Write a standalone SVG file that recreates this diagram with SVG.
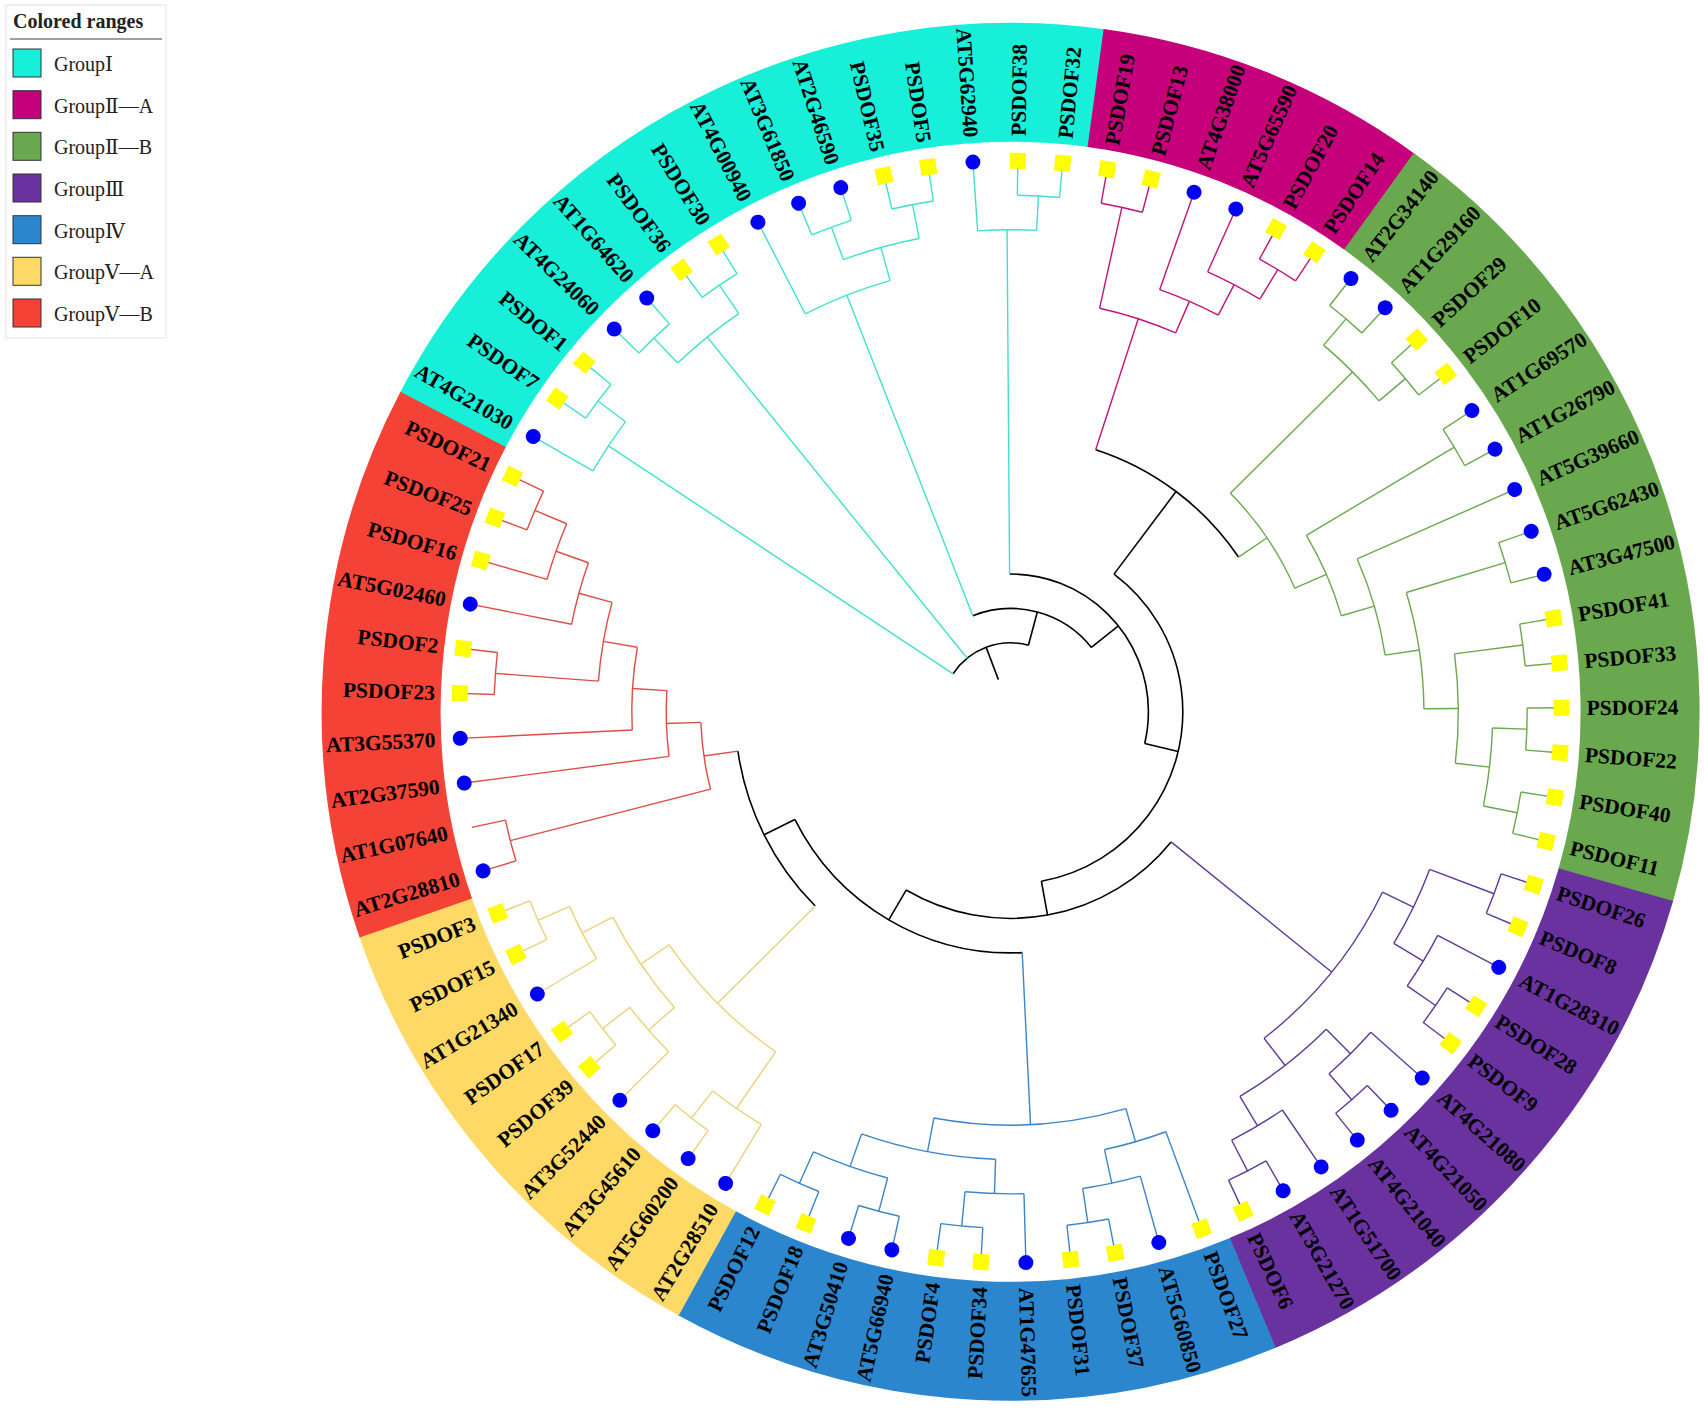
<svg xmlns="http://www.w3.org/2000/svg" xmlns:xlink="http://www.w3.org/1999/xlink" width="1704" height="1416" viewBox="0 0 1704 1416">
<style>
.br line,.br circle{fill:none;stroke-width:1.4}
.k{stroke:#000}.k line,.k circle{stroke-width:1.6}
.cy{stroke:#40E0D0}.mg{stroke:#C0147A}.gr{stroke:#6AA84F}.pu{stroke:#5E3A96}.bl{stroke:#3D85C6}.ye{stroke:#EBD27A}.rd{stroke:#DF4B45}
.band circle{fill:none;stroke-width:119}
.lf text{font-family:"Liberation Serif","Times New Roman",serif;font-weight:bold;font-size:21.5px;fill:#000}
.lf text.L{text-anchor:end}
.lg text{font-family:"Liberation Serif","DejaVu Serif",serif;font-size:20px;fill:#222}
.lg rect.sw{stroke:#333;stroke-width:1}
</style>
<defs>
<circle id="dot" cx="551" cy="0" r="7.5" fill="#0000F5"/>
<rect id="sq" x="543" y="-8" width="16" height="16" fill="#FFFF00"/>
</defs>
<rect width="1704" height="1416" fill="#fff"/>
<g transform="translate(1010.6 711.8)">
<g id="ranges" class="band">
<circle r="629.5" pathLength="360" stroke="#17EFD9" stroke-dasharray="70.18 720" transform="rotate(207.63)"/>
<circle r="629.5" pathLength="360" stroke="#C6007B" stroke-dasharray="28.1 720" transform="rotate(-82.24)"/>
<circle r="629.5" pathLength="360" stroke="#6AA84F" stroke-dasharray="70.18 720" transform="rotate(-54.19)"/>
<circle r="629.5" pathLength="360" stroke="#6A329F" stroke-dasharray="51.48 720" transform="rotate(15.94)"/>
<circle r="629.5" pathLength="360" stroke="#2B86CD" stroke-dasharray="51.48 720" transform="rotate(67.37)"/>
<circle r="629.5" pathLength="360" stroke="#FFD966" stroke-dasharray="42.13 720" transform="rotate(118.80)"/>
<circle r="629.5" pathLength="360" stroke="#F44336" stroke-dasharray="46.8 720" transform="rotate(160.88)"/>
</g>
<g id="connectors" class="br">
<g class="k">
<line x1="34.4" x2="68.9" transform="rotate(-110.77)"/>
<circle r="68.9" pathLength="360" stroke-dasharray="71.51 720" transform="rotate(-146.52)"/>
<line x1="68.9" x2="103.3" transform="rotate(-75.01)"/>
<circle r="103.3" pathLength="360" stroke-dasharray="72.90 720" transform="rotate(-111.46)"/>
<line x1="103.3" x2="137.8" transform="rotate(-38.56)"/>
<circle r="137.8" pathLength="360" stroke-dasharray="103.72 720" transform="rotate(-90.42)"/>
<line x1="137.8" x2="172.2" transform="rotate(13.30)"/>
<circle r="172.2" pathLength="360" stroke-dasharray="132.79 720" transform="rotate(-53.09)"/>
<line x1="172.2" x2="275.5" transform="rotate(-53.09)"/>
<circle r="275.5" pathLength="360" stroke-dasharray="37.84 720" transform="rotate(-72.01)"/>
<line x1="172.2" x2="206.6" transform="rotate(79.70)"/>
<circle r="206.6" pathLength="360" stroke-dasharray="81.33 720" transform="rotate(39.03)"/>
<line x1="206.6" x2="241.1" transform="rotate(120.36)"/>
<circle r="241.1" pathLength="360" stroke-dasharray="66.24 720" transform="rotate(87.24)"/>
<line x1="241.1" x2="275.5" transform="rotate(153.48)"/>
<circle r="275.5" pathLength="360" stroke-dasharray="36.63 720" transform="rotate(135.17)"/>
</g>
<g class="cy">
<line x1="68.9" x2="482.1" transform="rotate(213.48)"/>
<line x1="68.9" x2="482.1" transform="rotate(231.01)"/>
<line x1="103.3" x2="447.7" transform="rotate(248.54)"/>
<line x1="137.8" x2="482.1" transform="rotate(269.58)"/>
<circle r="482.1" pathLength="360" stroke-dasharray="7.01 720" transform="rotate(209.97)"/>
<line x1="482.1" x2="551" transform="rotate(209.97)"/>
<line x1="482.1" x2="516.6" transform="rotate(216.98)"/>
<circle r="516.6" pathLength="360" stroke-dasharray="4.675 720" transform="rotate(214.65)"/>
<line x1="516.6" x2="551" transform="rotate(214.65)"/>
<line x1="516.6" x2="551" transform="rotate(219.32)"/>
<circle r="482.1" pathLength="360" stroke-dasharray="9.35 720" transform="rotate(226.33)"/>
<line x1="482.1" x2="516.6" transform="rotate(226.33)"/>
<circle r="516.6" pathLength="360" stroke-dasharray="4.675 720" transform="rotate(224.00)"/>
<line x1="516.6" x2="551" transform="rotate(224.00)"/>
<line x1="516.6" x2="551" transform="rotate(228.67)"/>
<line x1="482.1" x2="516.6" transform="rotate(235.69)"/>
<circle r="516.6" pathLength="360" stroke-dasharray="4.675 720" transform="rotate(233.35)"/>
<line x1="516.6" x2="551" transform="rotate(233.35)"/>
<line x1="516.6" x2="551" transform="rotate(238.02)"/>
<circle r="447.7" pathLength="360" stroke-dasharray="11.69 720" transform="rotate(242.70)"/>
<line x1="447.7" x2="551" transform="rotate(242.70)"/>
<line x1="447.7" x2="482.1" transform="rotate(254.39)"/>
<circle r="482.1" pathLength="360" stroke-dasharray="9.35 720" transform="rotate(249.71)"/>
<line x1="482.1" x2="516.6" transform="rotate(249.71)"/>
<circle r="516.6" pathLength="360" stroke-dasharray="4.675 720" transform="rotate(247.37)"/>
<line x1="516.6" x2="551" transform="rotate(247.37)"/>
<line x1="516.6" x2="551" transform="rotate(252.05)"/>
<line x1="482.1" x2="516.6" transform="rotate(259.06)"/>
<circle r="516.6" pathLength="360" stroke-dasharray="4.675 720" transform="rotate(256.72)"/>
<line x1="516.6" x2="551" transform="rotate(256.72)"/>
<line x1="516.6" x2="551" transform="rotate(261.40)"/>
<circle r="482.1" pathLength="360" stroke-dasharray="7.01 720" transform="rotate(266.08)"/>
<line x1="482.1" x2="551" transform="rotate(266.08)"/>
<line x1="482.1" x2="516.6" transform="rotate(273.09)"/>
<circle r="516.6" pathLength="360" stroke-dasharray="4.675 720" transform="rotate(270.75)"/>
<line x1="516.6" x2="551" transform="rotate(270.75)"/>
<line x1="516.6" x2="551" transform="rotate(275.43)"/>
</g>
<g class="mg">
<line x1="275.5" x2="413.3" transform="rotate(-72.01)"/>
<circle r="413.3" pathLength="360" stroke-dasharray="11.10 720" transform="rotate(-77.56)"/>
<line x1="413.3" x2="516.6" transform="rotate(-77.56)"/>
<circle r="516.6" pathLength="360" stroke-dasharray="4.675 720" transform="rotate(-79.90)"/>
<line x1="516.6" x2="551" transform="rotate(-79.90)"/>
<line x1="516.6" x2="551" transform="rotate(-75.22)"/>
<line x1="413.3" x2="447.7" transform="rotate(-66.46)"/>
<circle r="447.7" pathLength="360" stroke-dasharray="8.18 720" transform="rotate(-70.55)"/>
<line x1="447.7" x2="551" transform="rotate(-70.55)"/>
<line x1="447.7" x2="482.1" transform="rotate(-62.37)"/>
<circle r="482.1" pathLength="360" stroke-dasharray="7.01 720" transform="rotate(-65.87)"/>
<line x1="482.1" x2="551" transform="rotate(-65.87)"/>
<line x1="482.1" x2="516.6" transform="rotate(-58.86)"/>
<circle r="516.6" pathLength="360" stroke-dasharray="4.675 720" transform="rotate(-61.20)"/>
<line x1="516.6" x2="551" transform="rotate(-61.20)"/>
<line x1="516.6" x2="551" transform="rotate(-56.52)"/>
</g>
<g class="gr">
<line x1="275.5" x2="309.9" transform="rotate(-34.17)"/>
<circle r="309.9" pathLength="360" stroke-dasharray="21.33 720" transform="rotate(-44.83)"/>
<line x1="309.9" x2="482.1" transform="rotate(-44.83)"/>
<circle r="482.1" pathLength="360" stroke-dasharray="9.35 720" transform="rotate(-49.51)"/>
<line x1="482.1" x2="516.6" transform="rotate(-49.51)"/>
<circle r="516.6" pathLength="360" stroke-dasharray="4.675 720" transform="rotate(-51.85)"/>
<line x1="516.6" x2="551" transform="rotate(-51.85)"/>
<line x1="516.6" x2="551" transform="rotate(-47.17)"/>
<line x1="482.1" x2="516.6" transform="rotate(-40.16)"/>
<circle r="516.6" pathLength="360" stroke-dasharray="4.675 720" transform="rotate(-42.50)"/>
<line x1="516.6" x2="551" transform="rotate(-42.50)"/>
<line x1="516.6" x2="551" transform="rotate(-37.82)"/>
<line x1="309.9" x2="344.4" transform="rotate(-23.50)"/>
<circle r="344.4" pathLength="360" stroke-dasharray="14.61 720" transform="rotate(-30.81)"/>
<line x1="344.4" x2="516.6" transform="rotate(-30.81)"/>
<circle r="516.6" pathLength="360" stroke-dasharray="4.675 720" transform="rotate(-33.15)"/>
<line x1="516.6" x2="551" transform="rotate(-33.15)"/>
<line x1="516.6" x2="551" transform="rotate(-28.47)"/>
<line x1="344.4" x2="378.8" transform="rotate(-16.20)"/>
<circle r="378.8" pathLength="360" stroke-dasharray="15.20 720" transform="rotate(-23.80)"/>
<line x1="378.8" x2="551" transform="rotate(-23.80)"/>
<line x1="378.8" x2="413.3" transform="rotate(-8.60)"/>
<circle r="413.3" pathLength="360" stroke-dasharray="16.36 720" transform="rotate(-16.78)"/>
<line x1="413.3" x2="516.6" transform="rotate(-16.78)"/>
<circle r="516.6" pathLength="360" stroke-dasharray="4.675 720" transform="rotate(-19.12)"/>
<line x1="516.6" x2="551" transform="rotate(-19.12)"/>
<line x1="516.6" x2="551" transform="rotate(-14.45)"/>
<line x1="413.3" x2="447.7" transform="rotate(-0.42)"/>
<circle r="447.7" pathLength="360" stroke-dasharray="14.02 720" transform="rotate(-7.43)"/>
<line x1="447.7" x2="516.6" transform="rotate(-7.43)"/>
<circle r="516.6" pathLength="360" stroke-dasharray="4.675 720" transform="rotate(-9.77)"/>
<line x1="516.6" x2="551" transform="rotate(-9.77)"/>
<line x1="516.6" x2="551" transform="rotate(-5.09)"/>
<line x1="447.7" x2="482.1" transform="rotate(6.59)"/>
<circle r="482.1" pathLength="360" stroke-dasharray="9.35 720" transform="rotate(1.92)"/>
<line x1="482.1" x2="516.6" transform="rotate(1.92)"/>
<circle r="516.6" pathLength="360" stroke-dasharray="4.675 720" transform="rotate(-0.42)"/>
<line x1="516.6" x2="551" transform="rotate(-0.42)"/>
<line x1="516.6" x2="551" transform="rotate(4.26)"/>
<line x1="482.1" x2="516.6" transform="rotate(11.27)"/>
<circle r="516.6" pathLength="360" stroke-dasharray="4.675 720" transform="rotate(8.93)"/>
<line x1="516.6" x2="551" transform="rotate(8.93)"/>
<line x1="516.6" x2="551" transform="rotate(13.61)"/>
</g>
<g class="pu">
<line x1="206.6" x2="413.3" transform="rotate(39.03)"/>
<circle r="413.3" pathLength="360" stroke-dasharray="26.30 720" transform="rotate(25.88)"/>
<line x1="413.3" x2="447.7" transform="rotate(25.88)"/>
<circle r="447.7" pathLength="360" stroke-dasharray="10.52 720" transform="rotate(20.62)"/>
<line x1="447.7" x2="516.6" transform="rotate(20.62)"/>
<circle r="516.6" pathLength="360" stroke-dasharray="4.675 720" transform="rotate(18.28)"/>
<line x1="516.6" x2="551" transform="rotate(18.28)"/>
<line x1="516.6" x2="551" transform="rotate(22.96)"/>
<line x1="447.7" x2="482.1" transform="rotate(31.14)"/>
<circle r="482.1" pathLength="360" stroke-dasharray="7.01 720" transform="rotate(27.63)"/>
<line x1="482.1" x2="551" transform="rotate(27.63)"/>
<line x1="482.1" x2="516.6" transform="rotate(34.65)"/>
<circle r="516.6" pathLength="360" stroke-dasharray="4.675 720" transform="rotate(32.31)"/>
<line x1="516.6" x2="551" transform="rotate(32.31)"/>
<line x1="516.6" x2="551" transform="rotate(36.98)"/>
<line x1="413.3" x2="447.7" transform="rotate(52.18)"/>
<circle r="447.7" pathLength="360" stroke-dasharray="14.03 720" transform="rotate(45.17)"/>
<line x1="447.7" x2="482.1" transform="rotate(45.17)"/>
<circle r="482.1" pathLength="360" stroke-dasharray="7.01 720" transform="rotate(41.66)"/>
<line x1="482.1" x2="551" transform="rotate(41.66)"/>
<line x1="482.1" x2="516.6" transform="rotate(48.67)"/>
<circle r="516.6" pathLength="360" stroke-dasharray="4.675 720" transform="rotate(46.33)"/>
<line x1="516.6" x2="551" transform="rotate(46.33)"/>
<line x1="516.6" x2="551" transform="rotate(51.01)"/>
<line x1="447.7" x2="482.1" transform="rotate(59.19)"/>
<circle r="482.1" pathLength="360" stroke-dasharray="7.01 720" transform="rotate(55.69)"/>
<line x1="482.1" x2="551" transform="rotate(55.69)"/>
<line x1="482.1" x2="516.6" transform="rotate(62.70)"/>
<circle r="516.6" pathLength="360" stroke-dasharray="4.675 720" transform="rotate(60.36)"/>
<line x1="516.6" x2="551" transform="rotate(60.36)"/>
<line x1="516.6" x2="551" transform="rotate(65.04)"/>
</g>
<g class="bl">
<line x1="241.1" x2="413.3" transform="rotate(87.24)"/>
<circle r="413.3" pathLength="360" stroke-dasharray="26.88 720" transform="rotate(73.80)"/>
<line x1="413.3" x2="447.7" transform="rotate(73.80)"/>
<circle r="447.7" pathLength="360" stroke-dasharray="8.18 720" transform="rotate(69.71)"/>
<line x1="447.7" x2="551" transform="rotate(69.71)"/>
<line x1="447.7" x2="482.1" transform="rotate(77.89)"/>
<circle r="482.1" pathLength="360" stroke-dasharray="7.01 720" transform="rotate(74.39)"/>
<line x1="482.1" x2="551" transform="rotate(74.39)"/>
<line x1="482.1" x2="516.6" transform="rotate(81.40)"/>
<circle r="516.6" pathLength="360" stroke-dasharray="4.675 720" transform="rotate(79.06)"/>
<line x1="516.6" x2="551" transform="rotate(79.06)"/>
<line x1="516.6" x2="551" transform="rotate(83.74)"/>
<line x1="413.3" x2="447.7" transform="rotate(100.69)"/>
<circle r="447.7" pathLength="360" stroke-dasharray="17.53 720" transform="rotate(91.92)"/>
<line x1="447.7" x2="482.1" transform="rotate(91.92)"/>
<circle r="482.1" pathLength="360" stroke-dasharray="7.01 720" transform="rotate(88.41)"/>
<line x1="482.1" x2="551" transform="rotate(88.41)"/>
<line x1="482.1" x2="516.6" transform="rotate(95.43)"/>
<circle r="516.6" pathLength="360" stroke-dasharray="4.675 720" transform="rotate(93.09)"/>
<line x1="516.6" x2="551" transform="rotate(93.09)"/>
<line x1="516.6" x2="551" transform="rotate(97.76)"/>
<line x1="447.7" x2="482.1" transform="rotate(109.45)"/>
<circle r="482.1" pathLength="360" stroke-dasharray="9.35 720" transform="rotate(104.78)"/>
<line x1="482.1" x2="516.6" transform="rotate(104.78)"/>
<circle r="516.6" pathLength="360" stroke-dasharray="4.675 720" transform="rotate(102.44)"/>
<line x1="516.6" x2="551" transform="rotate(102.44)"/>
<line x1="516.6" x2="551" transform="rotate(107.11)"/>
<line x1="482.1" x2="516.6" transform="rotate(114.13)"/>
<circle r="516.6" pathLength="360" stroke-dasharray="4.675 720" transform="rotate(111.79)"/>
<line x1="516.6" x2="551" transform="rotate(111.79)"/>
<line x1="516.6" x2="551" transform="rotate(116.46)"/>
</g>
<g class="ye">
<line x1="275.5" x2="413.3" transform="rotate(135.17)"/>
<circle r="413.3" pathLength="360" stroke-dasharray="21.04 720" transform="rotate(124.65)"/>
<line x1="413.3" x2="482.1" transform="rotate(124.65)"/>
<circle r="482.1" pathLength="360" stroke-dasharray="7.01 720" transform="rotate(121.14)"/>
<line x1="482.1" x2="551" transform="rotate(121.14)"/>
<line x1="482.1" x2="516.6" transform="rotate(128.15)"/>
<circle r="516.6" pathLength="360" stroke-dasharray="4.675 720" transform="rotate(125.82)"/>
<line x1="516.6" x2="551" transform="rotate(125.82)"/>
<line x1="516.6" x2="551" transform="rotate(130.49)"/>
<line x1="413.3" x2="447.7" transform="rotate(145.69)"/>
<circle r="447.7" pathLength="360" stroke-dasharray="14.03 720" transform="rotate(138.67)"/>
<line x1="447.7" x2="482.1" transform="rotate(138.67)"/>
<circle r="482.1" pathLength="360" stroke-dasharray="7.01 720" transform="rotate(135.17)"/>
<line x1="482.1" x2="551" transform="rotate(135.17)"/>
<line x1="482.1" x2="516.6" transform="rotate(142.18)"/>
<circle r="516.6" pathLength="360" stroke-dasharray="4.675 720" transform="rotate(139.84)"/>
<line x1="516.6" x2="551" transform="rotate(139.84)"/>
<line x1="516.6" x2="551" transform="rotate(144.52)"/>
<line x1="447.7" x2="482.1" transform="rotate(152.70)"/>
<circle r="482.1" pathLength="360" stroke-dasharray="7.01 720" transform="rotate(149.19)"/>
<line x1="482.1" x2="551" transform="rotate(149.19)"/>
<line x1="482.1" x2="516.6" transform="rotate(156.20)"/>
<circle r="516.6" pathLength="360" stroke-dasharray="4.675 720" transform="rotate(153.87)"/>
<line x1="516.6" x2="551" transform="rotate(153.87)"/>
<line x1="516.6" x2="551" transform="rotate(158.54)"/>
</g>
<g class="rd">
<line x1="275.5" x2="309.9" transform="rotate(171.80)"/>
<circle r="309.9" pathLength="360" stroke-dasharray="12.49 720" transform="rotate(165.56)"/>
<line x1="309.9" x2="516.6" transform="rotate(165.56)"/>
<circle r="516.6" pathLength="360" stroke-dasharray="4.675 720" transform="rotate(163.22)"/>
<line x1="516.6" x2="551" transform="rotate(163.22)"/>
<line x1="516.6" x2="551" transform="rotate(167.89)"/>
<line x1="309.9" x2="344.4" transform="rotate(178.05)"/>
<circle r="344.4" pathLength="360" stroke-dasharray="10.96 720" transform="rotate(172.57)"/>
<line x1="344.4" x2="551" transform="rotate(172.57)"/>
<line x1="344.4" x2="378.8" transform="rotate(183.53)"/>
<circle r="378.8" pathLength="360" stroke-dasharray="12.57 720" transform="rotate(177.24)"/>
<line x1="378.8" x2="551" transform="rotate(177.24)"/>
<line x1="378.8" x2="413.3" transform="rotate(189.81)"/>
<circle r="413.3" pathLength="360" stroke-dasharray="11.10 720" transform="rotate(184.26)"/>
<line x1="413.3" x2="516.6" transform="rotate(184.26)"/>
<circle r="516.6" pathLength="360" stroke-dasharray="4.675 720" transform="rotate(181.92)"/>
<line x1="516.6" x2="551" transform="rotate(181.92)"/>
<line x1="516.6" x2="551" transform="rotate(186.59)"/>
<line x1="413.3" x2="447.7" transform="rotate(195.36)"/>
<circle r="447.7" pathLength="360" stroke-dasharray="8.18 720" transform="rotate(191.27)"/>
<line x1="447.7" x2="551" transform="rotate(191.27)"/>
<line x1="447.7" x2="482.1" transform="rotate(199.45)"/>
<circle r="482.1" pathLength="360" stroke-dasharray="7.01 720" transform="rotate(195.95)"/>
<line x1="482.1" x2="551" transform="rotate(195.95)"/>
<line x1="482.1" x2="516.6" transform="rotate(202.96)"/>
<circle r="516.6" pathLength="360" stroke-dasharray="4.675 720" transform="rotate(200.62)"/>
<line x1="516.6" x2="551" transform="rotate(200.62)"/>
<line x1="516.6" x2="551" transform="rotate(205.30)"/>
</g>
</g>
<g id="leaves" class="lf">
<g id="n-PSDOF38" transform="rotate(-89.25)"><use href="#sq"/><text x="576" y="7.5">PSDOF38</text></g>
<g id="n-PSDOF32" transform="rotate(-84.58)"><use href="#sq"/><text x="576" y="7.5">PSDOF32</text></g>
<g id="n-PSDOF19" transform="rotate(-79.90)"><use href="#sq"/><text x="576" y="7.5">PSDOF19</text></g>
<g id="n-PSDOF13" transform="rotate(-75.22)"><use href="#sq"/><text x="576" y="7.5">PSDOF13</text></g>
<g id="n-AT4G38000" transform="rotate(-70.55)"><use href="#dot"/><text x="576" y="7.5">AT4G38000</text></g>
<g id="n-AT5G65590" transform="rotate(-65.87)"><use href="#dot"/><text x="576" y="7.5">AT5G65590</text></g>
<g id="n-PSDOF20" transform="rotate(-61.20)"><use href="#sq"/><text x="576" y="7.5">PSDOF20</text></g>
<g id="n-PSDOF14" transform="rotate(-56.52)"><use href="#sq"/><text x="576" y="7.5">PSDOF14</text></g>
<g id="n-AT2G34140" transform="rotate(-51.85)"><use href="#dot"/><text x="576" y="7.5">AT2G34140</text></g>
<g id="n-AT1G29160" transform="rotate(-47.17)"><use href="#dot"/><text x="576" y="7.5">AT1G29160</text></g>
<g id="n-PSDOF29" transform="rotate(-42.50)"><use href="#sq"/><text x="576" y="7.5">PSDOF29</text></g>
<g id="n-PSDOF10" transform="rotate(-37.82)"><use href="#sq"/><text x="576" y="7.5">PSDOF10</text></g>
<g id="n-AT1G69570" transform="rotate(-33.15)"><use href="#dot"/><text x="576" y="7.5">AT1G69570</text></g>
<g id="n-AT1G26790" transform="rotate(-28.47)"><use href="#dot"/><text x="576" y="7.5">AT1G26790</text></g>
<g id="n-AT5G39660" transform="rotate(-23.80)"><use href="#dot"/><text x="576" y="7.5">AT5G39660</text></g>
<g id="n-AT5G62430" transform="rotate(-19.12)"><use href="#dot"/><text x="576" y="7.5">AT5G62430</text></g>
<g id="n-AT3G47500" transform="rotate(-14.45)"><use href="#dot"/><text x="576" y="7.5">AT3G47500</text></g>
<g id="n-PSDOF41" transform="rotate(-9.77)"><use href="#sq"/><text x="576" y="7.5">PSDOF41</text></g>
<g id="n-PSDOF33" transform="rotate(-5.09)"><use href="#sq"/><text x="576" y="7.5">PSDOF33</text></g>
<g id="n-PSDOF24" transform="rotate(-0.42)"><use href="#sq"/><text x="576" y="7.5">PSDOF24</text></g>
<g id="n-PSDOF22" transform="rotate(4.26)"><use href="#sq"/><text x="576" y="7.5">PSDOF22</text></g>
<g id="n-PSDOF40" transform="rotate(8.93)"><use href="#sq"/><text x="576" y="7.5">PSDOF40</text></g>
<g id="n-PSDOF11" transform="rotate(13.61)"><use href="#sq"/><text x="576" y="7.5">PSDOF11</text></g>
<g id="n-PSDOF26" transform="rotate(18.28)"><use href="#sq"/><text x="576" y="7.5">PSDOF26</text></g>
<g id="n-PSDOF8" transform="rotate(22.96)"><use href="#sq"/><text x="576" y="7.5">PSDOF8</text></g>
<g id="n-AT1G28310" transform="rotate(27.63)"><use href="#dot"/><text x="576" y="7.5">AT1G28310</text></g>
<g id="n-PSDOF28" transform="rotate(32.31)"><use href="#sq"/><text x="576" y="7.5">PSDOF28</text></g>
<g id="n-PSDOF9" transform="rotate(36.98)"><use href="#sq"/><text x="576" y="7.5">PSDOF9</text></g>
<g id="n-AT4G21080" transform="rotate(41.66)"><use href="#dot"/><text x="576" y="7.5">AT4G21080</text></g>
<g id="n-AT4G21050" transform="rotate(46.33)"><use href="#dot"/><text x="576" y="7.5">AT4G21050</text></g>
<g id="n-AT4G21040" transform="rotate(51.01)"><use href="#dot"/><text x="576" y="7.5">AT4G21040</text></g>
<g id="n-AT1G51700" transform="rotate(55.69)"><use href="#dot"/><text x="576" y="7.5">AT1G51700</text></g>
<g id="n-AT3G21270" transform="rotate(60.36)"><use href="#dot"/><text x="576" y="7.5">AT3G21270</text></g>
<g id="n-PSDOF6" transform="rotate(65.04)"><use href="#sq"/><text x="576" y="7.5">PSDOF6</text></g>
<g id="n-PSDOF27" transform="rotate(69.71)"><use href="#sq"/><text x="576" y="7.5">PSDOF27</text></g>
<g id="n-AT5G60850" transform="rotate(74.39)"><use href="#dot"/><text x="576" y="7.5">AT5G60850</text></g>
<g id="n-PSDOF37" transform="rotate(79.06)"><use href="#sq"/><text x="576" y="7.5">PSDOF37</text></g>
<g id="n-PSDOF31" transform="rotate(83.74)"><use href="#sq"/><text x="576" y="7.5">PSDOF31</text></g>
<g id="n-AT1G47655" transform="rotate(88.41)"><use href="#dot"/><text x="576" y="7.5">AT1G47655</text></g>
<g id="n-PSDOF34" transform="rotate(93.09)"><use href="#sq"/><text class="L" x="-576" y="7.5" transform="rotate(180)">PSDOF34</text></g>
<g id="n-PSDOF4" transform="rotate(97.76)"><use href="#sq"/><text class="L" x="-576" y="7.5" transform="rotate(180)">PSDOF4</text></g>
<g id="n-AT5G66940" transform="rotate(102.44)"><use href="#dot"/><text class="L" x="-576" y="7.5" transform="rotate(180)">AT5G66940</text></g>
<g id="n-AT3G50410" transform="rotate(107.11)"><use href="#dot"/><text class="L" x="-576" y="7.5" transform="rotate(180)">AT3G50410</text></g>
<g id="n-PSDOF18" transform="rotate(111.79)"><use href="#sq"/><text class="L" x="-576" y="7.5" transform="rotate(180)">PSDOF18</text></g>
<g id="n-PSDOF12" transform="rotate(116.46)"><use href="#sq"/><text class="L" x="-576" y="7.5" transform="rotate(180)">PSDOF12</text></g>
<g id="n-AT2G28510" transform="rotate(121.14)"><use href="#dot"/><text class="L" x="-576" y="7.5" transform="rotate(180)">AT2G28510</text></g>
<g id="n-AT5G60200" transform="rotate(125.82)"><use href="#dot"/><text class="L" x="-576" y="7.5" transform="rotate(180)">AT5G60200</text></g>
<g id="n-AT3G45610" transform="rotate(130.49)"><use href="#dot"/><text class="L" x="-576" y="7.5" transform="rotate(180)">AT3G45610</text></g>
<g id="n-AT3G52440" transform="rotate(135.17)"><use href="#dot"/><text class="L" x="-576" y="7.5" transform="rotate(180)">AT3G52440</text></g>
<g id="n-PSDOF39" transform="rotate(139.84)"><use href="#sq"/><text class="L" x="-576" y="7.5" transform="rotate(180)">PSDOF39</text></g>
<g id="n-PSDOF17" transform="rotate(144.52)"><use href="#sq"/><text class="L" x="-576" y="7.5" transform="rotate(180)">PSDOF17</text></g>
<g id="n-AT1G21340" transform="rotate(149.19)"><use href="#dot"/><text class="L" x="-576" y="7.5" transform="rotate(180)">AT1G21340</text></g>
<g id="n-PSDOF15" transform="rotate(153.87)"><use href="#sq"/><text class="L" x="-576" y="7.5" transform="rotate(180)">PSDOF15</text></g>
<g id="n-PSDOF3" transform="rotate(158.54)"><use href="#sq"/><text class="L" x="-576" y="7.5" transform="rotate(180)">PSDOF3</text></g>
<g id="n-AT2G28810" transform="rotate(163.22)"><use href="#dot"/><text class="L" x="-576" y="7.5" transform="rotate(180)">AT2G28810</text></g>
<g id="n-AT1G07640" transform="rotate(167.89)"><text class="L" x="-576" y="7.5" transform="rotate(180)">AT1G07640</text></g>
<g id="n-AT2G37590" transform="rotate(172.57)"><use href="#dot"/><text class="L" x="-576" y="7.5" transform="rotate(180)">AT2G37590</text></g>
<g id="n-AT3G55370" transform="rotate(177.24)"><use href="#dot"/><text class="L" x="-576" y="7.5" transform="rotate(180)">AT3G55370</text></g>
<g id="n-PSDOF23" transform="rotate(181.92)"><use href="#sq"/><text class="L" x="-576" y="7.5" transform="rotate(180)">PSDOF23</text></g>
<g id="n-PSDOF2" transform="rotate(186.59)"><use href="#sq"/><text class="L" x="-576" y="7.5" transform="rotate(180)">PSDOF2</text></g>
<g id="n-AT5G02460" transform="rotate(191.27)"><use href="#dot"/><text class="L" x="-576" y="7.5" transform="rotate(180)">AT5G02460</text></g>
<g id="n-PSDOF16" transform="rotate(195.95)"><use href="#sq"/><text class="L" x="-576" y="7.5" transform="rotate(180)">PSDOF16</text></g>
<g id="n-PSDOF25" transform="rotate(200.62)"><use href="#sq"/><text class="L" x="-576" y="7.5" transform="rotate(180)">PSDOF25</text></g>
<g id="n-PSDOF21" transform="rotate(205.30)"><use href="#sq"/><text class="L" x="-576" y="7.5" transform="rotate(180)">PSDOF21</text></g>
<g id="n-AT4G21030" transform="rotate(209.97)"><use href="#dot"/><text class="L" x="-576" y="7.5" transform="rotate(180)">AT4G21030</text></g>
<g id="n-PSDOF7" transform="rotate(214.65)"><use href="#sq"/><text class="L" x="-576" y="7.5" transform="rotate(180)">PSDOF7</text></g>
<g id="n-PSDOF1" transform="rotate(219.32)"><use href="#sq"/><text class="L" x="-576" y="7.5" transform="rotate(180)">PSDOF1</text></g>
<g id="n-AT4G24060" transform="rotate(224.00)"><use href="#dot"/><text class="L" x="-576" y="7.5" transform="rotate(180)">AT4G24060</text></g>
<g id="n-AT1G64620" transform="rotate(228.67)"><use href="#dot"/><text class="L" x="-576" y="7.5" transform="rotate(180)">AT1G64620</text></g>
<g id="n-PSDOF36" transform="rotate(233.35)"><use href="#sq"/><text class="L" x="-576" y="7.5" transform="rotate(180)">PSDOF36</text></g>
<g id="n-PSDOF30" transform="rotate(238.02)"><use href="#sq"/><text class="L" x="-576" y="7.5" transform="rotate(180)">PSDOF30</text></g>
<g id="n-AT4G00940" transform="rotate(242.70)"><use href="#dot"/><text class="L" x="-576" y="7.5" transform="rotate(180)">AT4G00940</text></g>
<g id="n-AT3G61850" transform="rotate(247.37)"><use href="#dot"/><text class="L" x="-576" y="7.5" transform="rotate(180)">AT3G61850</text></g>
<g id="n-AT2G46590" transform="rotate(252.05)"><use href="#dot"/><text class="L" x="-576" y="7.5" transform="rotate(180)">AT2G46590</text></g>
<g id="n-PSDOF35" transform="rotate(256.72)"><use href="#sq"/><text class="L" x="-576" y="7.5" transform="rotate(180)">PSDOF35</text></g>
<g id="n-PSDOF5" transform="rotate(261.40)"><use href="#sq"/><text class="L" x="-576" y="7.5" transform="rotate(180)">PSDOF5</text></g>
<g id="n-AT5G62940" transform="rotate(266.08)"><use href="#dot"/><text class="L" x="-576" y="7.5" transform="rotate(180)">AT5G62940</text></g>
</g>
</g>
<g id="legend" class="lg">
<rect x="6" y="5" width="160" height="333" fill="#fff" stroke="#e2e2e2" stroke-width="1"/>
<text x="13" y="28" font-weight="bold">Colored ranges</text>
<line x1="10" y1="39" x2="162" y2="39" stroke="#444" stroke-width="1.2"/>
<rect class="sw" x="13" y="49" width="28" height="28" fill="#17EFD9"/>
<text x="54" y="71">GroupⅠ</text>
<rect class="sw" x="13" y="90.7" width="28" height="28" fill="#C6007B"/>
<text x="54" y="112.7">GroupⅡ—A</text>
<rect class="sw" x="13" y="132.3" width="28" height="28" fill="#6AA84F"/>
<text x="54" y="154.3">GroupⅡ—B</text>
<rect class="sw" x="13" y="174" width="28" height="28" fill="#6A329F"/>
<text x="54" y="196">GroupⅢ</text>
<rect class="sw" x="13" y="215.7" width="28" height="28" fill="#2B86CD"/>
<text x="54" y="237.7">GroupⅣ</text>
<rect class="sw" x="13" y="257.3" width="28" height="28" fill="#FFD966"/>
<text x="54" y="279.3">GroupⅤ—A</text>
<rect class="sw" x="13" y="299" width="28" height="28" fill="#F44336"/>
<text x="54" y="321">GroupⅤ—B</text>
</g>
</svg>
